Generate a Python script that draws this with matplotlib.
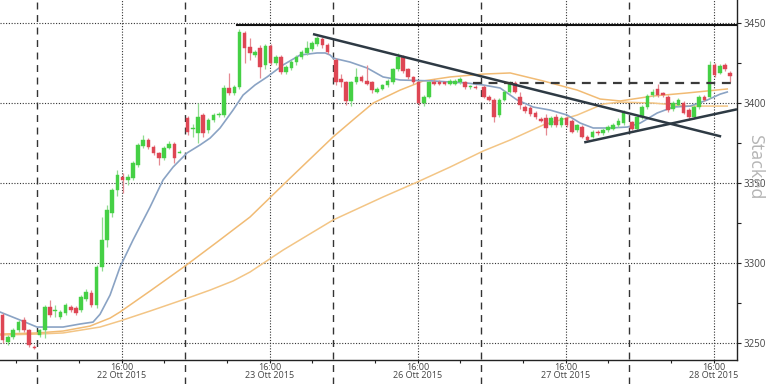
import numpy as np
import matplotlib
matplotlib.use("Agg")
import matplotlib.pyplot as plt
from matplotlib.ticker import FixedLocator

plt.rcParams['font.family'] = ['Open Sans', 'DejaVu Sans']

# ---------------- data ----------------
# session hours: each trading day = 14 h (08:00-22:00), half-hour bars
day_labels = ["22 Ott 2015", "23 Ott 2015", "26 Ott 2015", "27 Ott 2015", "28 Ott 2015"]
bars_per_day = [7, 28, 28, 28, 28, 20]   # first entry = tail of 21 Oct session
day_index = [-1, 0, 1, 2, 3, 4]

opens = [
    # 21 Oct tail
    3267.5, 3250.6, 3253.8, 3258.0, 3264.4, 3258.0, 3247.5,
    # 22 Oct
    3255.0, 3258.1, 3272.5, 3270.0, 3266.3, 3268.8, 3272.5, 3271.9, 3270.6, 3277.5, 3281.3, 3273.8, 3297.5, 3314.4,
    3331.0, 3345.6, 3353.8, 3351.9, 3353.0, 3361.0, 3373.0, 3376.9, 3372.5, 3368.8, 3365.6, 3371.9, 3374.4, 3369.0,
    # 23 Oct
    3390.6, 3384.0, 3381.3, 3392.5, 3383.0, 3389.4, 3392.5, 3392.5, 3409.4, 3406.3, 3410.0, 3443.8, 3435.0, 3430.0,
    3434.4, 3423.8, 3435.6, 3425.0, 3428.8, 3419.4, 3421.9, 3425.6, 3428.8, 3431.3, 3434.0, 3437.0, 3440.0, 3436.0,
    # 26 Oct
    3427.0, 3415.0, 3413.0, 3401.0, 3413.0, 3416.0, 3414.0, 3413.0, 3407.0, 3409.0, 3411.0, 3413.0, 3421.0, 3429.0,
    3421.0, 3416.0, 3413.0, 3400.0, 3404.0, 3413.0, 3413.0, 3413.0, 3412.0, 3412.0, 3413.0, 3413.0, 3410.0, 3410.0,
    # 27 Oct
    3410.0, 3404.0, 3402.0, 3392.5, 3402.0, 3407.0, 3412.5, 3404.0, 3397.5, 3397.0, 3394.0, 3390.0, 3390.6, 3386.0,
    3391.0, 3386.0, 3390.6, 3389.0, 3383.0, 3385.0, 3379.0, 3379.0, 3382.0, 3381.0, 3383.0, 3384.0, 3386.0, 3387.5,
    # 28 Oct
    3388.0, 3384.0, 3391.0, 3397.5, 3405.0, 3409.0, 3406.0, 3404.0, 3396.0, 3399.0, 3400.0, 3395.6, 3391.0, 3397.5,
    3404.0, 3404.0, 3424.0, 3419.0, 3424.0, 3419.0,
]
closes = [
    3252.0, 3253.8, 3258.0, 3263.0, 3258.0, 3248.8, 3247.0,
    3258.0, 3272.5, 3267.5, 3270.6, 3269.4, 3273.8, 3270.6, 3268.8, 3278.8, 3281.9, 3273.8, 3297.5, 3314.4, 3333.0,
    3345.6, 3355.0, 3351.9, 3353.8, 3362.5, 3373.8, 3376.9, 3372.5, 3368.8, 3365.6, 3371.9, 3374.4, 3365.6, 3369.6,
    3381.9, 3384.5, 3391.3, 3381.3, 3389.4, 3392.5, 3393.0, 3409.4, 3406.3, 3410.0, 3444.4, 3434.4, 3431.3, 3431.9,
    3422.5, 3435.6, 3425.0, 3428.8, 3419.4, 3422.5, 3425.6, 3428.8, 3431.9, 3434.4, 3437.5, 3440.6, 3436.0, 3432.0,
    3413.0, 3413.0, 3401.0, 3413.0, 3416.0, 3414.0, 3412.0, 3408.0, 3409.0, 3411.0, 3414.0, 3421.0, 3429.0, 3420.0,
    3416.0, 3413.0, 3400.0, 3404.0, 3413.0, 3412.0, 3412.0, 3412.0, 3413.5, 3414.0, 3415.0, 3410.0, 3410.5, 3409.5,
    3404.0, 3402.0, 3391.0, 3402.0, 3407.0, 3412.5, 3407.0, 3399.0, 3395.0, 3393.0, 3391.0, 3389.0, 3384.4, 3390.6,
    3386.0, 3390.6, 3386.0, 3382.0, 3386.0, 3379.0, 3377.0, 3382.0, 3381.0, 3383.0, 3385.0, 3386.0, 3389.0, 3394.0,
    3384.0, 3391.0, 3397.5, 3404.5, 3407.0, 3405.0, 3405.0, 3395.6, 3400.0, 3402.0, 3394.0, 3391.0, 3397.5, 3404.0,
    3402.0, 3424.0, 3417.5, 3423.0, 3421.0, 3417.0,
]
highs = [
    3269.0, 3255.0, 3259.5, 3264.5, 3266.3, 3259.0, 3248.5,
    3259.0, 3274.0, 3277.0, 3274.0, 3270.5, 3275.0, 3273.5, 3273.0, 3280.0, 3283.5, 3283.0, 3299.0, 3328.8, 3336.0,
    3347.0, 3358.0, 3356.0, 3355.5, 3364.0, 3375.0, 3380.0, 3378.0, 3373.5, 3369.5, 3373.0, 3376.0, 3375.5, 3370.5,
    3392.0, 3387.0, 3400.0, 3394.0, 3390.5, 3394.0, 3394.5, 3411.0, 3418.8, 3411.5, 3446.0, 3445.0, 3440.6, 3433.0,
    3436.0, 3437.0, 3437.0, 3430.0, 3430.0, 3424.0, 3427.0, 3430.0, 3433.0, 3439.0, 3439.0, 3442.0, 3441.5, 3437.5,
    3428.0, 3418.0, 3414.0, 3414.0, 3422.0, 3417.5, 3424.0, 3414.0, 3410.0, 3412.0, 3415.0, 3422.0, 3431.0, 3430.0,
    3422.0, 3417.0, 3414.0, 3405.0, 3414.0, 3415.0, 3414.5, 3414.0, 3415.0, 3415.0, 3416.0, 3414.0, 3411.5, 3411.0,
    3411.5, 3405.0, 3403.0, 3403.0, 3408.0, 3414.0, 3413.5, 3407.0, 3398.5, 3398.0, 3395.0, 3391.0, 3393.0, 3392.0,
    3393.0, 3392.0, 3392.0, 3390.0, 3387.0, 3386.0, 3380.0, 3383.0, 3383.0, 3384.5, 3386.5, 3387.5, 3390.5, 3395.5,
    3389.0, 3392.0, 3399.0, 3405.5, 3408.5, 3412.0, 3407.0, 3405.0, 3401.0, 3403.0, 3401.0, 3397.0, 3398.5, 3405.0,
    3405.0, 3426.0, 3425.0, 3424.5, 3425.0, 3420.0,
]
lows = [
    3250.0, 3249.0, 3252.5, 3257.0, 3257.0, 3247.5, 3246.5,
    3253.5, 3253.0, 3266.0, 3266.0, 3265.0, 3267.5, 3269.5, 3267.5, 3269.5, 3276.5, 3272.5, 3272.0, 3295.0, 3310.0,
    3329.0, 3342.0, 3344.0, 3349.0, 3352.0, 3360.0, 3372.0, 3371.0, 3367.5, 3361.0, 3364.5, 3371.0, 3362.5, 3368.5,
    3380.0, 3379.0, 3375.0, 3379.0, 3381.5, 3388.0, 3391.5, 3391.0, 3405.0, 3405.0, 3408.5, 3425.0, 3426.9, 3428.5,
    3415.6, 3421.0, 3423.5, 3423.5, 3418.0, 3418.0, 3420.5, 3424.0, 3427.5, 3430.0, 3432.5, 3435.5, 3434.5, 3430.5,
    3411.0, 3410.0, 3399.0, 3398.0, 3412.0, 3413.0, 3411.0, 3406.5, 3406.0, 3408.0, 3410.0, 3412.0, 3420.0, 3419.0,
    3415.0, 3412.0, 3398.5, 3398.0, 3403.0, 3411.0, 3411.0, 3411.0, 3411.0, 3411.0, 3412.0, 3409.0, 3409.0, 3408.5,
    3403.0, 3401.0, 3388.0, 3391.0, 3401.0, 3406.0, 3406.0, 3396.0, 3394.0, 3392.0, 3390.0, 3388.0, 3380.0, 3385.0,
    3385.0, 3385.0, 3385.0, 3381.0, 3382.0, 3378.0, 3376.0, 3378.0, 3380.0, 3380.0, 3382.0, 3383.0, 3385.0, 3386.5,
    3383.0, 3383.0, 3390.0, 3396.5, 3404.0, 3404.0, 3403.5, 3394.5, 3395.0, 3398.0, 3393.0, 3389.5, 3390.0, 3396.5,
    3401.0, 3403.0, 3416.0, 3418.0, 3420.0, 3413.0,
]

# moving averages (session hour, price)
ma_fast_x = [-3.50, -1.61, 0.00, 2.46, 4.07, 5.30, 5.96, 6.91, 7.85, 9.08, 10.69, 11.92, 12.87, 14.19, 15.42,
             16.37, 17.31, 18.54, 19.49, 20.62, 21.76, 23.27, 24.88, 26.49, 27.25, 27.72, 28.00, 29.61, 31.22,
             32.73, 34.34, 37.46, 40.68, 42.19, 43.80, 45.41, 46.93, 48.53, 50.14, 51.37, 52.60, 54.21, 55.82,
             57.05, 58.66, 60.17, 61.78, 63.39, 64.62, 65.28]
ma_fast_y = [3269.4, 3264.4, 3260.0, 3260.0, 3261.9, 3263.1, 3268.0, 3280.0, 3297.5, 3314.4, 3335.0, 3351.9,
             3360.0, 3368.8, 3373.8, 3378.1, 3384.4, 3395.6, 3405.0, 3411.3, 3416.3, 3423.8, 3430.0, 3431.3,
             3431.3, 3430.0, 3428.1, 3425.6, 3421.9, 3416.3, 3414.4, 3413.8, 3412.5, 3411.3, 3409.4, 3401.9,
             3397.5, 3395.6, 3392.5, 3387.5, 3384.4, 3384.4, 3385.0, 3387.5, 3393.8, 3397.5, 3398.1, 3401.9,
             3405.6, 3406.9]
ma_mid_x = [-3.50, 0.00, 2.46, 5.01, 6.91, 7.85, 10.69, 14.00, 17.03, 20.15, 23.94, 28.00, 30.09, 31.79, 34.34,
            36.52, 39.07, 42.19, 44.75, 47.87, 51.09, 53.26, 55.16, 58.28, 61.50, 65.28]
ma_mid_y = [3255.6, 3256.3, 3257.5, 3260.6, 3265.6, 3269.4, 3282.5, 3298.1, 3313.1, 3328.8, 3353.1, 3378.8,
            3390.6, 3400.0, 3408.1, 3413.8, 3416.3, 3418.1, 3418.8, 3413.8, 3408.1, 3402.5, 3401.3, 3404.4,
            3406.3, 3408.8]
ma_slow_x = [-3.50, 0.00, 2.46, 5.96, 7.85, 10.69, 14.00, 16.37, 18.54, 20.15, 23.27, 28.00, 32.73, 35.95,
             39.07, 42.19, 44.75, 47.87, 51.09, 53.55, 55.16, 58.28, 61.50, 65.28]
ma_slow_y = [3255.0, 3255.6, 3256.3, 3260.0, 3263.8, 3270.0, 3277.5, 3283.1, 3288.8, 3294.4, 3308.1, 3326.9,
             3341.3, 3350.6, 3360.0, 3370.0, 3376.9, 3386.3, 3392.5, 3399.4, 3400.6, 3400.0, 3398.1, 3398.1]

# drawn trend lines / levels
down_trend_x, down_trend_y = [26.1, 64.7], [3443.1, 3379.1]
up_trend_x, up_trend_y = [51.75, 66.2], [3375.4, 3396.1]
resistance_x, resistance_y = [18.9, 66.2], [3448.7, 3448.7]
dashed_level_x, dashed_level_y = [41.2, 65.8], [3412.7, 3412.7]

y_ticks = [3250, 3300, 3350, 3400, 3450]

# ---------------- build time axis ----------------
times = []
for d, n in zip(day_index, bars_per_day):
    if d < 0:
        times += list(np.arange(-n, 0) * 0.5 + 0.25)
    else:
        times += list(d * 14 + 0.25 + 0.49 * np.arange(n))
times = np.array(times)
o, c, h, l = map(np.array, (opens, closes, highs, lows))

# ---------------- figure ----------------
fig = plt.figure(figsize=(7.68, 3.84), dpi=100)
ax = fig.add_axes([0, 24 / 384, 737 / 768, 360 / 384])
ax.set_xlim(-3.5, 66.2)
ax.set_ylim(3239.4, 3464.4)

GREEN = '#45d045'
RED = '#de4654'
up = c >= o
col = np.where(up, GREEN, RED)
wick_col = np.where(up, '#8fdc8f', '#e58a92')

# grid
for yv in y_ticks:
    ax.axhline(yv, color='#333333', lw=0.8, ls=(0, (1, 1.5)), zorder=1)
for d in range(5):
    ax.axvline(d * 14 + 8, color='#333333', lw=0.8, ls=(0, (1, 1.5)), zorder=1)
    ax.axvline(d * 14, ymin=-24 / 360, ymax=1, color='#333333', lw=1.0, ls=(0, (5, 4)),
               clip_on=False, zorder=1)

# moving averages
ax.plot(ma_slow_x, ma_slow_y, color='#f3c585', lw=1.1, zorder=2)
ax.plot(ma_mid_x, ma_mid_y, color='#f1bb74', lw=1.1, zorder=2)
ax.plot(ma_fast_x, ma_fast_y, color='#8aa3c4', lw=1.2, zorder=2)

# candles
ax.vlines(times, l, h, colors=wick_col, lw=0.9, zorder=3)
body = np.maximum(np.abs(c - o), 0.7)
ax.bar(times, body, bottom=np.minimum(o, c), width=0.34, color=col, edgecolor=col, lw=0.3, zorder=4)

# trend lines and levels
ax.plot(down_trend_x, down_trend_y, color='#2e3a44', lw=1.8, zorder=5, solid_capstyle='butt')
ax.plot(up_trend_x, up_trend_y, color='#2e3a44', lw=1.8, zorder=5, solid_capstyle='butt')
ax.plot(resistance_x, resistance_y, color='#111111', lw=1.5, zorder=5)
ax.plot(dashed_level_x, dashed_level_y, color='#3a3a3a', lw=1.6, ls=(0, (4, 3)), zorder=5)

# axes styling
for s in ['top', 'left']:
    ax.spines[s].set_visible(False)
ax.spines['right'].set_color('#222222')
ax.spines['bottom'].set_color('#222222')
ax.spines['right'].set_linewidth(1.0)
ax.spines['bottom'].set_linewidth(1.0)

ax.yaxis.tick_right()
ax.set_yticks(y_ticks)
ax.set_yticklabels([str(v) for v in y_ticks])
ax.yaxis.set_minor_locator(FixedLocator([3275, 3325, 3375, 3425]))
ax.tick_params(axis='y', which='both', direction='out', length=3, width=0.8, colors='#222222',
               labelcolor='#444444', labelsize=7, pad=2)

major_x = [d * 14 + 8 for d in range(5)]
ax.set_xticks(major_x)
ax.set_xticklabels(["16:00\n" + lab for lab in day_labels], linespacing=0.95)
ax.xaxis.set_minor_locator(FixedLocator([d * 14 + 4 for d in range(5)] + [d * 14 + 12 for d in range(-1, 5)]))
ax.tick_params(axis='x', which='both', direction='out', length=2, width=0.8, colors='#222222',
               labelcolor='#444444', labelsize=6.5, pad=0)

fig.text(0.983, 0.565, "Stacked", rotation=270, color='#b4b4b4', fontsize=13,
         ha='center', va='center')

fig.savefig("out.png", dpi=100, facecolor='white')
